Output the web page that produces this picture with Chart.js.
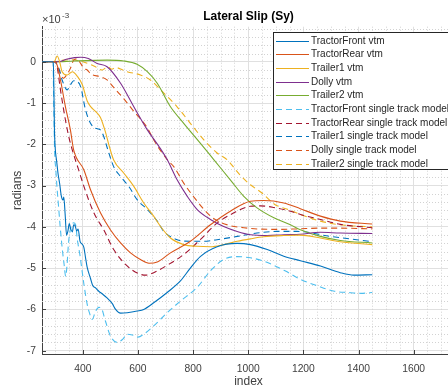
<!DOCTYPE html>
<html>
<head>
<meta charset="utf-8">
<script src="https://cdn.jsdelivr.net/npm/chart.js@4.4.1/dist/chart.umd.min.js"></script>
<style>
  html, body { margin: 0; padding: 0; background: #fff; overflow: hidden; }
  #wrap { width: 448px; height: 392px; overflow: hidden; position: relative; }
  canvas { display: block; }
</style>
</head>
<body>
<div id="wrap"><canvas id="c" width="470" height="392" style="width:470px;height:392px"></canvas></div>
<script>
// Lateral slip per vehicle unit, values in units of 1e-3 rad, against sample index.

const chartTitle = 'Lateral Slip (Sy)';
const seriesLabels = [
  'TractorFront vtm', 'TractorRear vtm', 'Trailer1 vtm', 'Dolly vtm', 'Trailer2 vtm',
  'TractorFront single track model', 'TractorRear single track model',
  'Trailer1 single track model', 'Dolly single track model', 'Trailer2 single track model'
];

const xTicks = [400, 600, 800, 1000, 1200, 1400, 1600];
const yTicks = [-7, -6, -5, -4, -3, -2, -1, 0];

// --- vtm ---
const tractorFrontVtmX = [252,293,295,297,300,305,310,316,322,328,331,336,341,346,351,356,362,367,372,378,383,390,398,404,410,416,428,436,446,458,470,488,507,519,537,561,597,621,657,706,754,790,826,887,960,1008,1069,1129,1189,1262,1334,1383,1450];
const tractorFrontVtmY = [0,0,-0.6,-1.6,-2.1,-2.4,-2.7,-2.95,-3.25,-3.35,-3.28,-3.7,-4.2,-4.1,-3.92,-4.05,-4.12,-3.95,-3.97,-4.1,-4.05,-4.35,-4.42,-4.5,-4.75,-4.98,-5.25,-5.42,-5.48,-5.56,-5.62,-5.72,-5.86,-6.0,-6.09,-6.08,-6.04,-6.0,-5.84,-5.59,-5.31,-5.0,-4.72,-4.48,-4.4,-4.43,-4.55,-4.71,-4.82,-4.95,-5.11,-5.17,-5.16];

const tractorRearVtmX = [252,300,307,319,337,355,367,404,428,464,500,537,573,609,640,670,718,790,863,935,1008,1056,1129,1189,1262,1334,1450];
const tractorRearVtmY = [0,0,-0.08,-0.44,-1.09,-1.65,-2.14,-2.62,-3.1,-3.66,-4.07,-4.39,-4.63,-4.79,-4.88,-4.85,-4.63,-4.35,-3.95,-3.62,-3.38,-3.36,-3.42,-3.56,-3.74,-3.86,-3.93];

const trailer1VtmX = [252,296,307,316,325,343,362,380,398,416,430,446,464,482,494,512,549,585,621,657,682,718,766,815,863,911,960,1008,1056,1129,1189,1262,1334,1450];
const trailer1VtmY = [0,0,0.14,0,-0.24,-0.32,-0.24,-0.35,-0.55,-0.95,-1.1,-1.2,-1.35,-1.7,-2.0,-2.38,-2.7,-3.02,-3.42,-3.74,-3.99,-4.27,-4.43,-4.47,-4.48,-4.43,-4.35,-4.29,-4.24,-4.21,-4.2,-4.27,-4.36,-4.43];

const dollyVtmX = [252,310,340,370,392,420,452,488,537,585,634,676,706,742,779,815,863,911,960,1008,1069,1129,1189,1262,1334,1450];
const dollyVtmY = [0,0,0.06,0.1,0.11,0.08,-0.04,-0.12,-0.52,-1.09,-1.65,-2.05,-2.37,-2.86,-3.26,-3.58,-3.82,-3.99,-4.11,-4.19,-4.21,-4.19,-4.18,-4.13,-4.15,-4.16];

const trailer2VtmX = [252,300,367,488,549,597,634,670,718,766,826,875,935,984,1032,1093,1153,1189,1262,1334,1450];
const trailer2VtmY = [0,0,0.02,0.04,0.02,-0.06,-0.24,-0.52,-1.09,-1.49,-1.97,-2.37,-2.86,-3.26,-3.54,-3.78,-3.95,-4.07,-4.23,-4.33,-4.39];

// --- single track model ---
const tractorFrontStmX = [252,292,295,298,302,307,312,318,325,332,338,343,348,354,360,367,374,380,390,398,404,416,425,434,446,458,466,482,500,525,545,561,580,600,621,657,706,754,814,865,911,960,1008,1056,1135,1189,1252,1313,1361,1409,1450];
const tractorFrontStmY = [0,0,-1.2,-2.2,-2.6,-3.1,-3.5,-4.0,-4.5,-4.9,-5.2,-4.9,-4.4,-4.1,-3.95,-3.9,-3.95,-4.3,-4.7,-5.1,-5.39,-5.88,-6.1,-6.24,-6.05,-5.95,-5.96,-6.28,-6.64,-6.8,-6.72,-6.6,-6.62,-6.67,-6.6,-6.4,-6.08,-5.8,-5.47,-5.05,-4.79,-4.72,-4.75,-4.83,-5.07,-5.27,-5.43,-5.56,-5.59,-5.61,-5.59];

const tractorRearStmX = [252,302,307,319,337,349,362,385,404,440,476,512,555,580,609,630,657,706,766,826,887,948,1008,1044,1093,1153,1189,1262,1334,1450];
const tractorRearStmY = [0,0,-0.12,-0.68,-1.41,-1.81,-2.14,-2.62,-3.02,-3.66,-4.07,-4.55,-4.91,-5.05,-5.15,-5.17,-5.11,-4.93,-4.67,-4.31,-3.91,-3.66,-3.5,-3.49,-3.53,-3.62,-3.7,-3.82,-3.94,-4.02];

const trailer1StmX = [252,295,313,325,343,355,367,380,392,410,428,446,464,476,488,512,537,567,597,634,670,694,742,790,839,887,960,1032,1105,1177,1298,1450];
const trailer1StmY = [0,0,-0.16,-0.44,-0.68,-0.56,-0.46,-0.48,-0.6,-1.17,-1.49,-1.61,-1.65,-1.81,-2.07,-2.54,-2.78,-3.02,-3.34,-3.58,-3.86,-4.11,-4.31,-4.35,-4.35,-4.31,-4.23,-4.15,-4.11,-4.11,-4.23,-4.36];

const dollyStmX = [252,300,307,319,330,343,355,367,380,392,404,416,430,464,488,512,549,585,634,657,706,730,766,815,851,887,935,984,1032,1105,1177,1262,1334,1450];
const dollyStmY = [0,0,-0.08,-0.28,-0.4,-0.3,-0.16,0.04,0.07,-0.04,-0.16,-0.2,-0.3,-0.36,-0.44,-0.62,-0.9,-1.2,-1.6,-1.89,-2.37,-2.54,-2.94,-3.38,-3.66,-3.85,-3.97,-4.02,-4.05,-4.06,-4.05,-4.03,-4.03,-4.05];

const trailer2StmX = [252,300,320,360,400,440,470,490,505,520,545,561,609,645,694,742,790,839,887,923,971,1008,1050,1095,1153,1189,1262,1334,1450];
const trailer2StmY = [0,0,0.03,0.05,0,-0.1,-0.2,-0.12,-0.18,-0.14,-0.2,-0.24,-0.32,-0.44,-0.76,-1.09,-1.49,-1.89,-2.21,-2.37,-2.75,-2.98,-3.18,-3.45,-3.6,-3.7,-3.86,-3.95,-4.0];

const seriesX = [tractorFrontVtmX, tractorRearVtmX, trailer1VtmX, dollyVtmX, trailer2VtmX,
                 tractorFrontStmX, tractorRearStmX, trailer1StmX, dollyStmX, trailer2StmX];
const seriesY = [tractorFrontVtmY, tractorRearVtmY, trailer1VtmY, dollyVtmY, trailer2VtmY,
                 tractorFrontStmY, tractorRearStmY, trailer1StmY, dollyStmY, trailer2StmY];
const seriesColors = ['#0072BD', '#D95319', '#EDB120', '#7E2F8E', '#77AC30',
                      '#4DBEEE', '#A2142F', '#0072BD', '#D95319', '#EDB120'];
const seriesDashed = [false, false, false, false, false, true, true, true, true, true];

const FONT = "'Liberation Sans', Arial, Helvetica, sans-serif";
const AXIS_COLOR = '#404040';

// Minor dotted grid, inward tick marks, title over the plot area, exponent label and the boxed legend.
const axisDecor = {
  id: 'axisDecor',
  beforeDatasetsDraw(chart) {
    const { ctx, chartArea: a, scales: { x, y } } = chart;
    ctx.save();
    ctx.strokeStyle = '#d2d2d2';
    ctx.lineWidth = 1;
    ctx.setLineDash([1, 2]);
    ctx.beginPath();
    for (let v = 300; v <= x.max; v += 50) {
      if (v % 200 === 0) continue;
      const px = Math.round(x.getPixelForValue(v)) + 0.5;
      ctx.moveTo(px, a.top); ctx.lineTo(px, a.bottom);
    }
    for (let k = -35; k <= 4; k++) {
      if (k % 5 === 0) continue;
      const py = Math.round(y.getPixelForValue(k / 5)) + 0.5;
      ctx.moveTo(a.left, py); ctx.lineTo(a.right, py);
    }
    ctx.stroke();
    ctx.restore();
  },
  afterDraw(chart) {
    const { ctx, chartArea: a, scales: { x, y } } = chart;
    ctx.save();
    // inward ticks
    ctx.strokeStyle = AXIS_COLOR;
    ctx.lineWidth = 1;
    ctx.beginPath();
    x.ticks.forEach(t => {
      const px = Math.round(x.getPixelForValue(t.value)) + 0.5;
      ctx.moveTo(px, a.bottom); ctx.lineTo(px, a.bottom - 4);
    });
    y.ticks.forEach(t => {
      const py = Math.round(y.getPixelForValue(t.value)) + 0.5;
      ctx.moveTo(a.left, py); ctx.lineTo(a.left + 4, py);
    });
    ctx.stroke();

    // title, centred over the plot area
    ctx.fillStyle = '#000000';
    ctx.font = `bold 12px ${FONT}`;
    ctx.textAlign = 'center';
    ctx.textBaseline = 'alphabetic';
    ctx.fillText(chartTitle, (a.left + a.right) / 2, 20);

    // exponent of the y axis
    ctx.fillStyle = AXIS_COLOR;
    ctx.textAlign = 'left';
    ctx.font = `11px ${FONT}`;
    ctx.fillText('\u00d710', a.left, 22.7);
    ctx.font = `8px ${FONT}`;
    ctx.fillText('-3', a.left + 20, 18.3);

    // legend
    const lx = 273, ly = 32, lw = 182, lh = 137;
    ctx.fillStyle = '#ffffff';
    ctx.fillRect(lx, ly, lw, lh);
    ctx.strokeStyle = '#262626';
    ctx.strokeRect(lx + 0.5, ly + 0.5, lw, lh);
    ctx.font = `10px ${FONT}`;
    ctx.textBaseline = 'middle';
    chart.data.datasets.forEach((ds, i) => {
      const yy = Math.round(40.5 + i * 13.7) + 0.5;
      ctx.strokeStyle = ds.borderColor;
      ctx.lineWidth = 1;
      ctx.setLineDash(ds.borderDash || []);
      ctx.beginPath();
      ctx.moveTo(276, yy); ctx.lineTo(309, yy);
      ctx.stroke();
      ctx.setLineDash([]);
      ctx.fillStyle = '#262626';
      ctx.fillText(ds.label, 311, yy);
    });
    ctx.restore();
  }
};

const datasets = seriesLabels.map((label, i) => ({
  label,
  data: seriesX[i].map((v, j) => ({ x: v, y: seriesY[i][j] })),
  borderColor: seriesColors[i],
  backgroundColor: seriesColors[i],
  borderWidth: 1.1,
  borderDash: seriesDashed[i] ? [6, 4] : [],
  pointRadius: 0,
  fill: false,
  cubicInterpolationMode: 'monotone'
}));

new Chart(document.getElementById('c'), {
  type: 'line',
  data: { datasets },
  plugins: [axisDecor],
  options: {
    responsive: false,
    animation: false,
    devicePixelRatio: 1,
    layout: { padding: { left: 0, right: 15, top: 26.7, bottom: 0 } },
    plugins: {
      legend: { display: false },
      tooltip: { enabled: false },
      title: { display: false }
    },
    scales: {
      x: {
        type: 'linear',
        min: 252,
        max: 1750,
        afterBuildTicks: s => { s.ticks = xTicks.map(v => ({ value: v })); },
        afterFit: s => { s.height = 38; },
        ticks: { color: AXIS_COLOR, font: { family: FONT, size: 10.3 }, padding: 9, maxRotation: 0,
                 callback: v => String(v) },
        grid: { color: '#e0e0e0', drawTicks: false },
        border: { display: true, color: AXIS_COLOR, width: 1 },
        title: { display: true, text: 'index', color: AXIS_COLOR, font: { family: FONT, size: 12 }, padding: { top: 0, bottom: 3 } }
      },
      y: {
        type: 'linear',
        min: -7.08,
        max: 0.85,
        afterBuildTicks: s => { s.ticks = yTicks.map(v => ({ value: v })); },
        afterFit: s => { s.width = 42; },
        ticks: { color: AXIS_COLOR, font: { family: FONT, size: 10.3 }, padding: 6,
                 callback: v => String(v) },
        grid: { color: '#e0e0e0', drawTicks: false },
        border: { display: true, color: AXIS_COLOR, width: 1 },
        title: { display: true, text: 'radians', color: AXIS_COLOR, font: { family: FONT, size: 12 }, padding: { top: 10, bottom: 0 } }
      }
    }
  }
});
</script>
</body>
</html>
